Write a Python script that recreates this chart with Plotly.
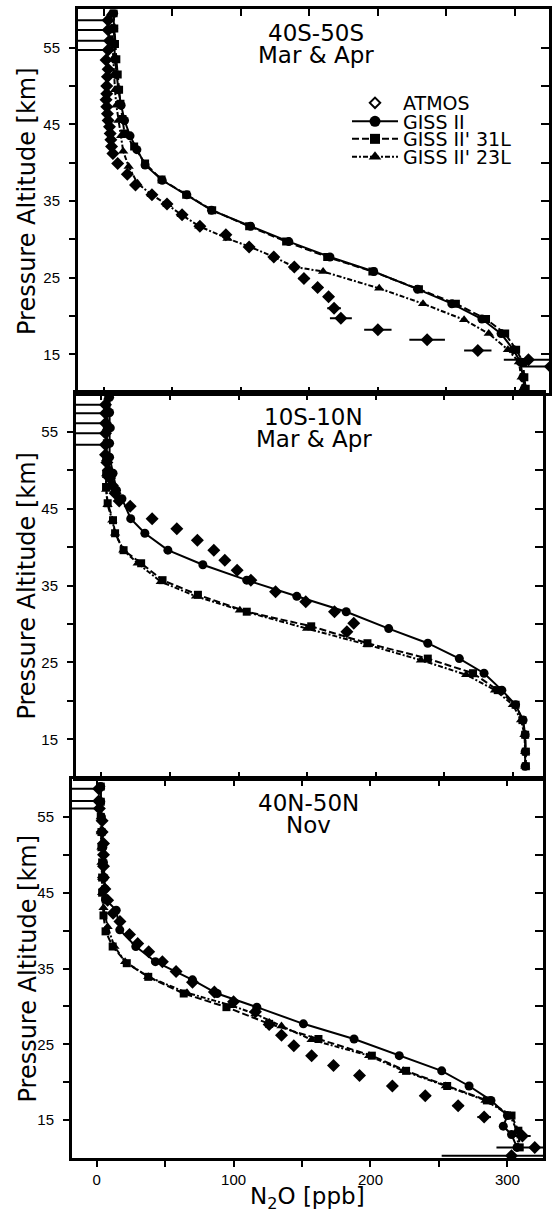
import plotly.graph_objects as go

W, H = 554, 1215
FONT = "Liberation Sans, Arial, Helvetica, sans-serif"
FONT_WIDE = "DejaVu Sans, Liberation Sans, sans-serif"

# ---------------- data ----------------
PANEL_TITLES = [("40S-50S", "Mar & Apr"), ("10S-10N", "Mar & Apr"), ("40N-50N", "Nov")]
X_RANGES = [[-19, 325], [-18.5, 322], [-18, 326]]
Y_RANGE = [10, 60]
X_TICKS = [0, 50, 100, 150, 200, 250, 300]
X_TICKTEXT = ["0", "", "100", "", "200", "", "300"]
Y_TICKS = [15, 20, 25, 30, 35, 40, 45, 50, 55]
Y_TICKTEXT = ["15", "", "25", "", "35", "", "45", "", "55"]
SERIES_NAMES = ["ATMOS", "GISS II", "GISS II' 31L", "GISS II' 23L"]

# Panel 1: 40S-50S, Mar & Apr
P1_ATMOS_KM = [58.6, 57.3, 55.9, 54.7, 53.4, 52.2, 51.2, 50.0, 49.0, 48.2, 47.3, 46.4, 45.5, 44.7, 43.8,
               43.0, 42.1, 41.2, 39.9, 38.5, 37.1, 35.8, 34.6, 33.2, 31.7, 30.6, 29.0, 27.7, 26.4, 24.9,
               23.7, 22.5, 21.0, 19.7, 18.2, 16.9, 15.5, 14.3, 13.4]
P1_ATMOS_PPB = [3, 3, 4, 3, 1.5, 3, 2.5, 2, 2, 1.5, 2, 2.5, 3, 4, 4.5,
                5, 5.5, 6.5, 10, 17, 23, 35, 46, 57, 70, 89, 106, 124, 139, 146,
                156, 164, 168, 173, 200, 236, 273, 310, 326]
P1_ATMOS_ERR_PLUS = [0, 0, 0, 0, 1, 1, 1, 1, 1, 1, 1, 1, 1, 1, 1,
                     1, 1, 1, 1, 1, 1, 2, 2, 2, 2, 2, 3, 3, 3, 4,
                     4, 4, 5, 8, 10, 13, 10, 18, 22]
P1_ATMOS_ERR_MINUS = [40, 40, 40, 40, 1, 1, 1, 1, 1, 1, 1, 1, 1, 1, 1,
                      1, 1, 1, 1, 1, 1, 2, 2, 2, 2, 2, 3, 3, 3, 4,
                      4, 4, 5, 8, 10, 13, 10, 18, 22]
P1_GISS_KM = [59.5, 57.5, 55.5, 53.5, 51.5, 49.5, 47.5, 45.5, 43.5, 41.7, 39.7, 37.7, 35.8, 33.8, 31.7,
              29.7, 27.7, 25.8, 23.5, 21.6, 19.6, 17.7, 15.6, 14.0, 12.0, 10.5]
P1_GISS_PPB = [7, 7, 7.5, 8, 9, 10.5, 12.5, 15, 19, 24, 30, 42.5, 60.5, 78.5, 107,
               135, 165, 197, 229, 254, 276, 290, 299, 304, 306, 307]
P1_L31_KM = [59.5, 57.5, 55.5, 53.5, 51.5, 49.5, 47.7, 45.7, 43.8, 42.1, 39.9, 37.8, 35.8, 33.8, 31.7,
             29.7, 27.7, 25.8, 23.5, 21.6, 19.6, 17.7, 15.6, 14.0, 12.0, 10.5]
P1_L31_PPB = [7, 7.5, 8, 9, 10, 11, 12, 13.5, 15, 22, 30, 42, 60, 79, 106,
              133, 163, 196, 230, 257, 279, 293, 301, 306, 307, 308]
P1_L23_KM = [59.5, 57.5, 55.5, 53.5, 51.5, 49.5, 47.5, 45.5, 43.5, 41.5, 39.5, 37.3, 35.8, 34.5, 33.2,
             31.7, 30.1, 29.0, 27.7, 26.4, 25.8, 23.6, 21.6, 19.5, 17.7, 15.6, 14.0, 12.0, 10.5]
P1_L23_PPB = [5, 5.5, 6, 6.5, 7, 8, 9, 10.5, 12.5, 14, 18, 24.5, 34.8, 46.4, 56.7,
              69.6, 90.2, 107, 124, 139, 160, 201, 233, 263, 281, 295, 303, 305, 306]

# Panel 2: 10S-10N, Mar & Apr
P2_ATMOS_KM = [58.5, 57.4, 56.1, 54.8, 53.3, 52.0, 51.0, 50.0, 49.0, 48.0, 47.0, 46.0, 45.3, 43.7, 42.4,
               40.9, 39.6, 38.3, 37.0, 35.7, 34.2, 32.9, 31.6, 30.1, 29.0]
P2_ATMOS_PPB = [3, 3, 3, 3, 3, 3, 4, 5, 6, 8, 10, 13, 21, 37, 55,
                70, 82, 90, 99, 109, 127, 149, 170, 184, 179]
P2_ATMOS_ERR_PLUS = [0, 0, 0, 0, 0, 1, 1, 1, 1, 1, 1, 1, 1, 1, 1,
                     1, 1, 1, 1, 1, 2, 2, 2, 2, 2]
P2_ATMOS_ERR_MINUS = [40, 40, 40, 40, 40, 1, 1, 1, 1, 1, 1, 1, 1, 1, 1,
                      1, 1, 1, 1, 1, 2, 2, 2, 2, 2]
P2_GISS_KM = [59.5, 57.5, 55.5, 53.5, 51.7, 49.6, 47.4, 46.3, 43.7, 41.8, 39.6, 37.7, 35.7, 33.6, 31.6,
              29.4, 27.5, 25.5, 23.6, 21.4, 19.5, 17.5, 15.6, 13.4, 11.5]
P2_GISS_PPB = [6, 6, 6.5, 6, 6, 8.5, 11, 15, 21.4, 31.7, 48.5, 74, 106, 142.5, 178.5,
               209.5, 238, 261, 279, 292, 302, 307.5, 309, 309, 309]
P2_L31_KM = [59.5, 57.5, 55.5, 53.5, 51.5, 49.5, 47.8, 45.7, 43.5, 41.8, 39.6, 37.9, 35.7, 33.8, 31.6,
             29.7, 27.5, 25.5, 23.6, 21.4, 19.5, 17.5, 15.6, 13.4, 11.5]
P2_L31_PPB = [5, 4.5, 4, 4, 3.5, 3.5, 3.4, 4.6, 8.5, 10, 16.2, 29, 44.6, 70.4, 106,
              153, 194, 238, 271, 289, 302, 307, 309, 309.5, 309.5]
P2_L23_KM = [59.5, 57.5, 55.5, 53.5, 51.5, 49.5, 47.5, 45.5, 43.5, 41.8, 39.6, 37.9, 35.5, 33.6, 31.8,
             29.4, 27.3, 25.3, 23.4, 21.4, 19.5, 17.5, 15.6, 13.4, 11.5]
P2_L23_PPB = [5, 4.5, 4, 4, 3.5, 3.5, 3.5, 4.5, 8, 10, 16, 26.5, 43.3, 69, 101,
              150, 194, 233, 266, 287, 300, 306, 308.5, 309, 309]

# Panel 3: 40N-50N, Nov
P3_ATMOS_KM = [58.7, 57.1, 56.1, 54.5, 53.0, 51.5, 50.0, 48.5, 47.0, 45.5, 44.0, 42.3, 41.2, 39.5, 38.3,
               37.2, 35.9, 34.6, 33.2, 31.9, 30.6, 29.3, 27.6, 26.2, 24.8, 23.5, 22.2, 20.9, 19.5, 18.2,
               16.9, 15.4, 12.9, 11.4, 10.3]
P3_ATMOS_PPB = [1.5, 1.5, 2, 4, 4, 5, 5, 5, 5, 6, 8, 12, 17, 24, 30,
                38, 48, 58, 70, 86, 100, 116, 126, 135, 144, 157, 173, 192, 216, 240,
                264, 283, 311, 320, 303]
P3_ATMOS_ERR_PLUS = [0, 0, 0, 1, 1, 1, 1, 1, 1, 1, 1, 1, 1, 1, 1,
                     1, 1, 1, 2, 2, 2, 2, 2, 2, 3, 3, 3, 3, 3, 4,
                     4, 5, 6, 28, 30]
P3_ATMOS_ERR_MINUS = [40, 40, 40, 1, 1, 1, 1, 1, 1, 1, 1, 1, 1, 1, 1,
                      1, 1, 1, 2, 2, 2, 2, 2, 2, 3, 3, 3, 3, 3, 4,
                      4, 5, 6, 28, 51]
P3_GISS_KM = [59, 57, 55, 53, 51, 49, 47, 45.5, 44.1, 42.7, 40.1, 37.9, 35.9, 33.5, 31.7,
              29.9, 27.7, 25.7, 23.5, 21.5, 19.5, 17.6, 15.6, 14.2, 13.1, 11.4]
P3_GISS_PPB = [3, 3, 3.5, 4, 4.5, 5, 5.5, 6, 6.5, 14.3, 16.9, 28.6, 42.9, 70, 88,
               117, 151, 188, 221, 252, 272, 288, 300, 297, 303, 307]
P3_L31_KM = [59, 57, 55, 53, 51, 49, 47, 45, 42, 39.9, 37.9, 35.7, 33.9, 31.7, 29.9,
             27.7, 25.7, 23.5, 21.5, 19.5, 17.6, 15.6, 13.6, 11.4]
P3_L31_PPB = [3, 3, 3, 3.5, 3.5, 4, 4, 4, 5, 6.5, 11.7, 22, 37.7, 63.6, 94.8,
              126, 162, 201, 226, 256, 285, 303, 308, 309]
P3_L23_KM = [59, 57, 55, 53, 51, 49, 47, 45, 43, 40.5, 37.9, 35.9, 33.9, 31.8, 30.1,
             29.0, 27.4, 25.6, 23.5, 21.5, 19.5, 17.6, 15.6, 13.6, 11.4]
P3_L23_PPB = [2.5, 2.5, 3, 3, 3.5, 3.5, 4, 4, 5, 8, 13, 20.8, 37.7, 66, 98.7,
              116, 135, 157, 199, 224, 255, 284, 302, 307, 308]

PANELS = [
    dict(atmos=(P1_ATMOS_PPB, P1_ATMOS_KM, P1_ATMOS_ERR_PLUS, P1_ATMOS_ERR_MINUS),
         giss=(P1_GISS_PPB, P1_GISS_KM), l31=(P1_L31_PPB, P1_L31_KM), l23=(P1_L23_PPB, P1_L23_KM)),
    dict(atmos=(P2_ATMOS_PPB, P2_ATMOS_KM, P2_ATMOS_ERR_PLUS, P2_ATMOS_ERR_MINUS),
         giss=(P2_GISS_PPB, P2_GISS_KM), l31=(P2_L31_PPB, P2_L31_KM), l23=(P2_L23_PPB, P2_L23_KM)),
    dict(atmos=(P3_ATMOS_PPB, P3_ATMOS_KM, P3_ATMOS_ERR_PLUS, P3_ATMOS_ERR_MINUS),
         giss=(P3_GISS_PPB, P3_GISS_KM), l31=(P3_L31_PPB, P3_L31_KM), l23=(P3_L23_PPB, P3_L23_KM)),
]

# ---------------- layout geometry (pixels: left, right, top, bottom) ----------------
PANEL_BOX = [(78, 549, 9.4, 392.6), (76, 543, 393.3, 777.8), (72, 543, 779, 1158)]

STYLE = {
    "giss": dict(dash="solid", symbol="circle", size=9, legend_size=11),
    "l31": dict(dash="7px,3px", symbol="square", size=8, legend_size=10),
    "l23": dict(dash="5px,2px,2px,2px", symbol="triangle-up", size=9, legend_size=11),
}
LEGEND_OF = {"giss": ("legend2", SERIES_NAMES[1]), "l31": ("legend3", SERIES_NAMES[2]),
             "l23": ("legend4", SERIES_NAMES[3])}


def aid(letter, n):
    return letter if n == 1 else f"{letter}{n}"


def akey(letter, n):
    return f"{letter}axis" if n == 1 else f"{letter}axis{n}"


fig = go.Figure()
BLACK = "black"

for i, p in enumerate(PANELS, start=1):
    xa, ya = aid("x", i), aid("y", i)
    ax, ay, ep, em = p["atmos"]
    for key in ("giss", "l31", "l23"):
        st = STYLE[key]
        fig.add_trace(go.Scatter(x=p[key][0], y=p[key][1], xaxis=xa, yaxis=ya,
                                 mode="lines+markers", name=LEGEND_OF[key][1],
                                 line=dict(color=BLACK, width=2, dash=st["dash"]),
                                 marker=dict(symbol=st["symbol"], size=st["size"], color=BLACK),
                                 showlegend=False))
    fig.add_trace(go.Scatter(x=ax, y=ay, xaxis=xa, yaxis=ya, mode="markers",
                             name=SERIES_NAMES[0],
                             marker=dict(symbol="diamond", size=10, color=BLACK),
                             error_x=dict(type="data", symmetric=False, array=ep, arrayminus=em,
                                          color=BLACK, thickness=2, width=0),
                             showlegend=False))
    # dummy traces to activate the mirror axes (top / right ticks)
    fig.add_trace(go.Scatter(x=[None], y=[None], xaxis=aid("x", i + 3), yaxis=ya,
                             showlegend=False, hoverinfo="skip"))
    fig.add_trace(go.Scatter(x=[None], y=[None], xaxis=xa, yaxis=aid("y", i + 3),
                             showlegend=False, hoverinfo="skip"))

# legend-only entries
fig.add_trace(go.Scatter(x=[None], y=[None], xaxis="x", yaxis="y", mode="markers",
                         name=SERIES_NAMES[0],
                         marker=dict(symbol="diamond-open", size=8, color=BLACK,
                                     line=dict(width=2, color=BLACK)),
                         showlegend=True, legend="legend"))
for key in ("giss", "l31", "l23"):
    st = STYLE[key]
    fig.add_trace(go.Scatter(x=[None], y=[None], xaxis="x", yaxis="y", mode="lines+markers",
                             name=LEGEND_OF[key][1],
                             line=dict(color=BLACK, width=2, dash=st["dash"]),
                             marker=dict(symbol=st["symbol"], size=st["legend_size"], color=BLACK),
                             showlegend=True, legend=LEGEND_OF[key][0]))

layout = dict(width=W, height=H, autosize=False,
              margin=dict(l=0, r=0, t=0, b=0, pad=0),
              paper_bgcolor="white", plot_bgcolor="white",
              font=dict(family=FONT, color=BLACK),
              template="none", hovermode=False)

for i, (l, r, t, b) in enumerate(PANEL_BOX, start=1):
    xdom = [l / W, r / W]
    ydom = [1 - b / H, 1 - t / H]
    last = (i == 3)
    layout[akey("x", i)] = dict(domain=xdom, anchor=aid("y", i), range=X_RANGES[i - 1],
                                showline=True, linewidth=3, linecolor=BLACK,
                                showgrid=False, zeroline=False, automargin=False,
                                tickmode="array", tickvals=X_TICKS, ticktext=X_TICKTEXT,
                                showticklabels=last,
                                ticks="outside" if last else "inside",
                                ticklen=6, tickwidth=2, tickcolor=BLACK,
                                tickfont=dict(size=15, family=FONT, color=BLACK))
    layout[akey("y", i)] = dict(domain=ydom, anchor=aid("x", i), range=Y_RANGE,
                                showline=True, linewidth=3, linecolor=BLACK,
                                showgrid=False, zeroline=False, automargin=False,
                                tickmode="array", tickvals=Y_TICKS, ticktext=Y_TICKTEXT,
                                ticks="outside", ticklen=6, tickwidth=2, tickcolor=BLACK,
                                ticklabelstandoff=6,
                                tickfont=dict(size=15, family=FONT, color=BLACK))
    layout[akey("x", i + 3)] = dict(overlaying=aid("x", i), side="top", anchor=aid("y", i),
                                    range=X_RANGES[i - 1], showline=True, linewidth=3,
                                    linecolor=BLACK, showgrid=False, zeroline=False,
                                    automargin=False, tickmode="array", tickvals=X_TICKS,
                                    ticks="inside", ticklen=7, tickwidth=2, tickcolor=BLACK,
                                    showticklabels=False)
    layout[akey("y", i + 3)] = dict(overlaying=aid("y", i), side="right", anchor=aid("x", i),
                                    range=Y_RANGE, showline=True, linewidth=3,
                                    linecolor=BLACK, showgrid=False, zeroline=False,
                                    automargin=False, tickmode="array", tickvals=Y_TICKS,
                                    ticks="inside", ticklen=8, tickwidth=2, tickcolor=BLACK,
                                    showticklabels=False)

# four single-entry legends, stacked like the original key
LEG_ROWS = [103, 121.5, 139, 157]
for k, key in enumerate(["legend", "legend2", "legend3", "legend4"]):
    layout[key] = dict(x=347 / W, y=1 - LEG_ROWS[k] / H, xanchor="left", yanchor="middle",
                       xref="paper", yref="paper",
                       bgcolor="rgba(0,0,0,0)", borderwidth=0, itemwidth=46,
                       font=dict(size=19, family=FONT_WIDE, color=BLACK),
                       tracegroupgap=0, itemclick=False, itemdoubleclick=False)

fig.update_layout(**layout)

annotations = []
for i, (t1, t2) in enumerate(PANEL_TITLES, start=1):
    xr, yr = aid("x", i), aid("y", i) + " domain"
    annotations.append(dict(text=t1, x=155, xref=xr, y=1, yref=yr,
                            yshift=-24, xanchor="center", yanchor="middle", showarrow=False,
                            font=dict(size=23, family=FONT_WIDE, color=BLACK)))
    annotations.append(dict(text=t2, x=155, xref=xr, y=1, yref=yr,
                            yshift=-46, xanchor="center", yanchor="middle", showarrow=False,
                            font=dict(size=23, family=FONT_WIDE, color=BLACK)))
    annotations.append(dict(text="Pressure Altitude [km]", textangle=-90,
                            x=27 / W, xref="paper", y=0.5, yref=yr,
                            xanchor="center", yanchor="middle", showarrow=False,
                            font=dict(size=24, family=FONT_WIDE, color=BLACK)))
annotations.append(dict(text="N<sub>2</sub>O [ppb]", x=0.5, xref="x3 domain",
                        y=1 - 1198 / H, yref="paper", xanchor="center", yanchor="middle",
                        showarrow=False, font=dict(size=23, family=FONT_WIDE, color=BLACK)))
fig.update_layout(annotations=annotations)

fig.write_html("out.html", config={"displayModeBar": False})
